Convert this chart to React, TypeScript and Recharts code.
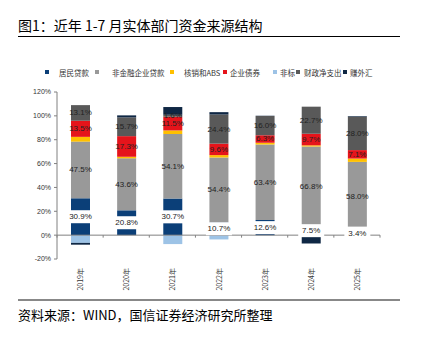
import React from 'react';
import { BarChart, Bar, XAxis, YAxis, ReferenceLine, LabelList } from 'recharts';

// 各年 1-7 月实体部门资金来源结构（%）
const years = ['2019年', '2020年', '2021年', '2022年', '2023年', '2024年', '2025年'];
const household = [30.9, 20.8, 30.7, 10.7, 12.6, 7.5, 3.4];
const corporate = [47.5, 43.6, 54.1, 54.4, 63.4, 66.8, 58.0];
const writeOff = [4.0, 1.3, 3.0, 2.0, 1.5, 1.0, 2.8];
const bonds = [13.5, 17.3, 11.5, 9.6, 6.3, 9.7, 7.1];
const shadow = [-6.5, 0, -7.5, -3.6, 0, 0, 0];
const fiscal = [13.1, 15.7, 1.6, 24.4, 16.0, 22.7, 28.0];
const fx = [-1.5, 1.7, 6.5, 2.0, 0.3, -7.0, 0.5];
const yTicks = [-20, 0, 20, 40, 60, 80, 100, 120];

const series = [
    { key: 'household', name: '居民贷款', color: '#0B3F78' },
    { key: 'corporate', name: '非金融企业贷款', color: '#999999' },
    { key: 'writeOff', name: '核销和ABS', color: '#FFC000' },
    { key: 'bonds', name: '企业债券', color: '#E5141B' },
    { key: 'shadow', name: '非标', color: '#9DC3E6' },
    { key: 'fiscal', name: '财政净支出', color: '#595959' },
    { key: 'fx', name: '赚外汇', color: '#0F2744' },
];

const data = years.map((year, i) => ({
    year,
    household: household[i],
    corporate: corporate[i],
    writeOff: writeOff[i],
    bonds: bonds[i],
    shadow: shadow[i],
    fiscal: fiscal[i],
    fx: fx[i],
}));

const FONT = '"Liberation Sans", Arial, sans-serif';
const CJK = '"Noto Sans CJK SC", sans-serif';
const pct = (v: any) => `${Number(v).toFixed(1)}%`;

const PlainLabel = (props: any) => {
    const { x, y, width, height, value } = props;
    const cx = Number(x) + Number(width) / 2;
    const cy = Number(y) + Number(height) / 2;
    return (
        <text x={cx} y={cy} textAnchor="middle" dominantBaseline="central" fontSize={8} fill="#222" fontFamily={FONT}>
            {pct(value)}
        </text>
    );
};

const BoxLabel = (props: any) => {
    const { x, y, width, height, value } = props;
    const cx = Number(x) + Number(width) / 2;
    const cy = Number(y) + Number(height) / 2;
    return (
        <g>
            <rect x={cx - 13} y={cy - 6.5} width={26} height={13} fill="#fff" />
            <text x={cx} y={cy} textAnchor="middle" dominantBaseline="central" fontSize={8} fill="#222" fontFamily={FONT}>
                {pct(value)}
            </text>
        </g>
    );
};

const ZeroLine = (props: any) => {
    const { x1, y1, x2 } = props;
    const n = years.length;
    const step = (x2 - x1) / n;
    return (
        <g>
            <line x1={x1} y1={y1} x2={x2} y2={y1} stroke="#808080" strokeWidth={1} />
            {Array.from({ length: n + 1 }, (_, i) => (
                <line key={i} x1={x1 + i * step} y1={y1} x2={x1 + i * step} y2={y1 + 2.5} stroke="#808080" />
            ))}
        </g>
    );
};

const YearTick = (props: any) => {
    const { x, y, payload } = props;
    return (
        <text
            x={x}
            y={y}
            transform={`rotate(-90 ${x} ${y})`}
            textAnchor="end"
            dominantBaseline="central"
            fontSize={7}
            fill="#333"
            fontFamily={CJK}
        >
            {payload.value}
        </text>
    );
};

// legend marker left positions
const legendX = [45, 95, 170, 223, 273, 296, 343];
const legendGap = [10, 13, 10, 3, 3, 4, 3];

const App: React.FC = () => (
    <div style={{ position: 'absolute', left: 0, top: 0, width: 423, height: 341, background: '#fff', overflow: 'hidden' }}>
        <div style={{ position: 'absolute', left: 18, top: 15, fontSize: 14, lineHeight: '20px', fontFamily: CJK, color: '#000', whiteSpace: 'nowrap' }}>
            图1：近年 1-7 月实体部门资金来源结构
        </div>
        <div style={{ position: 'absolute', left: 18, top: 36, width: 382, height: 1, background: '#000' }} />
        {series.map((s, i) => (
            <div
                key={s.key}
                style={{ position: 'absolute', left: legendX[i], top: 65, height: 14, display: 'flex', alignItems: 'center', fontSize: 7.5, fontFamily: CJK, color: '#333', whiteSpace: 'nowrap' }}
            >
                <span style={{ width: 4, height: 4, background: s.color, marginRight: legendGap[i], display: 'inline-block' }} />
                {s.name}
            </div>
        ))}
        <div style={{ position: 'absolute', left: 0, top: 0 }}>
            <BarChart
                width={423}
                height={341}
                data={data}
                margin={{ top: 92, right: 43, bottom: 42, left: 0 }}
                stackOffset="sign"
                barSize={19}
            >
                <XAxis
                    dataKey="year"
                    axisLine={false}
                    tickLine={false}
                    height={40}
                    tick={<YearTick />}
                    tickMargin={3}
                    interval={0}
                />
                <YAxis
                    width={57}
                    domain={[-20, 120]}
                    ticks={yTicks}
                    tickFormatter={(v: number) => `${v}%`}
                    axisLine={{ stroke: '#808080' }}
                    tickLine={{ stroke: '#808080' }}
                    tickSize={3}
                    tickMargin={3}
                    tick={{ fontSize: 7, fill: '#333', fontFamily: FONT }}
                    allowDataOverflow
                />
                {series.map((s) => (
                    <Bar key={s.key} dataKey={s.key} name={s.name} stackId="a" fill={s.color} isAnimationActive={false}>
                        {s.key === 'household' && <LabelList dataKey={s.key} content={<BoxLabel />} />}
                        {(s.key === 'corporate' || s.key === 'bonds' || s.key === 'fiscal') && (
                            <LabelList dataKey={s.key} content={<PlainLabel />} />
                        )}
                    </Bar>
                ))}
                <ReferenceLine y={0} shape={<ZeroLine />} />
            </BarChart>
        </div>
        <div style={{ position: 'absolute', left: 18, top: 299, width: 382, height: 2, background: '#888' }} />
        <div style={{ position: 'absolute', left: 18, top: 306, fontSize: 13, lineHeight: '18px', fontFamily: CJK, color: '#000', whiteSpace: 'nowrap' }}>
            资料来源：WIND，国信证券经济研究所整理
        </div>
    </div>
);

export default App;
